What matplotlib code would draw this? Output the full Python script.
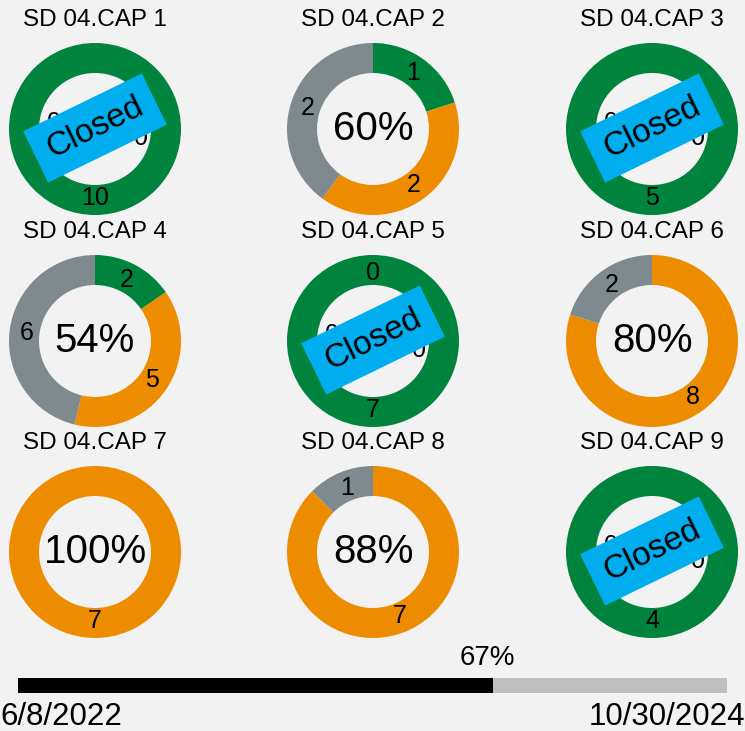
import matplotlib.pyplot as plt
from matplotlib.patches import Rectangle

# data
titles = ["SD 04.CAP %d" % i for i in range(1, 10)]
green = [10, 1, 5, 2, 7, 0, 0, 0, 4]
orange = [0, 2, 0, 5, 0, 8, 7, 7, 0]
gray = [0, 2, 0, 6, 0, 2, 0, 1, 0]
closed = [True, False, True, False, True, False, False, False, True]
progress = 0.67
start_date = "6/8/2022"
end_date = "10/30/2024"

colors = ["#00843D", "#EE8C00", "#7F8A8F"]
bg = "#F2F2F2"
W, H = 745, 731

fig = plt.figure(figsize=(W / 100, H / 100), dpi=100, facecolor=bg)
ax = fig.add_axes([0, 0, 1, 1])
ax.set_facecolor(bg)
plt.rcParams['font.family'] = ['Liberation Sans', 'DejaVu Sans']

col_x = [95, 373, 652]
row_y = [129, 341, 552]
R = 86
ring = 30

for i in range(9):
    cx = col_x[i % 3]
    cy = H - row_y[i // 3]
    vals = [green[i], orange[i], gray[i]]
    labs = [str(v) if v > 0 else "" for v in vals]
    ax.pie(vals, center=(cx, cy), radius=R, startangle=90, counterclock=False,
           colors=colors, labels=labs, labeldistance=0.8,
           wedgeprops=dict(width=ring, linewidth=0),
           textprops=dict(fontsize=18, ha="center", va="center"))
    ax.text(cx, cy + 109, titles[i], fontsize=17.5, ha="center", va="center")
    total = sum(vals)
    if closed[i]:
        # zero labels mostly hidden behind the stamp
        ax.text(cx - 41, cy + 6, "0", fontsize=18, ha="center", va="center", zorder=3)
        ax.text(cx + 46, cy - 9, "0", fontsize=18, ha="center", va="center", zorder=3)
        if i == 4:
            ax.text(cx, cy + 68, "0", fontsize=18, ha="center", va="center", zorder=3)
        w, h = 132, 57
        ax.add_patch(Rectangle((cx - w / 2, cy - h / 2 + 1), w, h, angle=26,
                               rotation_point="center", facecolor="#00AEEF",
                               edgecolor="none", zorder=5))
        ax.text(cx, cy + 1, "Closed", fontsize=24, rotation=26, ha="center",
                va="center", rotation_mode="anchor", zorder=6)
    else:
        pct = round(100 * (green[i] + orange[i]) / total)
        ax.text(cx, cy, "%d%%" % pct, fontsize=29, ha="center", va="center")

# progress bar
bar_left, bar_right = 18, 727
bar_w = bar_right - bar_left
ax.barh(H - 685.5, bar_w, left=bar_left, height=15, color="#BFBFBF", linewidth=0)
ax.barh(H - 685.5, bar_w * progress, left=bar_left, height=15, color="black", linewidth=0)
ax.text(bar_left + bar_w * progress - 6, H - 658, "%d%%" % round(progress * 100),
        fontsize=20, ha="center", va="center")
ax.text(0, H - 717, start_date, fontsize=22.5, ha="left", va="center")
ax.text(W, H - 717, end_date, fontsize=22.5, ha="right", va="center")

ax.set_xlim(0, W)
ax.set_ylim(0, H)
ax.set_aspect("auto")
ax.axis("off")

fig.savefig("out.png", dpi=100, facecolor=bg)
